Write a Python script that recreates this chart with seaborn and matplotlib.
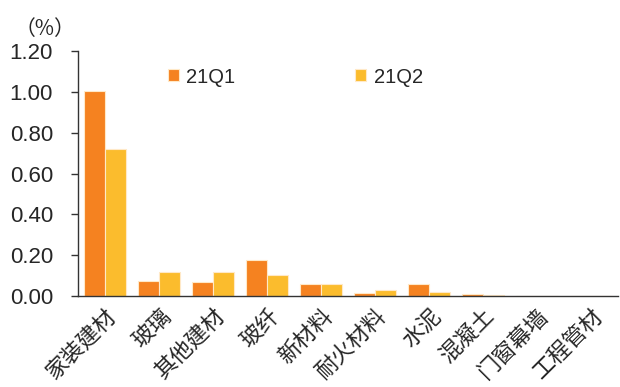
import matplotlib
matplotlib.use("Agg")
import matplotlib.pyplot as plt
import seaborn as sns
import pandas as pd
import numpy as np

categories = ["家装建材", "玻璃", "其他建材", "玻纤", "新材料", "耐火材料", "水泥", "混凝土", "门窗幕墙", "工程管材"]
q1 = [1.005, 0.073, 0.068, 0.175, 0.057, 0.015, 0.060, 0.012, 0.0, 0.0]
q2 = [0.720, 0.118, 0.116, 0.104, 0.057, 0.030, 0.020, 0.006, 0.0, 0.0]
series = ["21Q1", "21Q2"]
colors = ["#F58220", "#FBBC2D"]
yticks = [0.0, 0.2, 0.4, 0.6, 0.8, 1.0, 1.2]

sns.set_style("white")
plt.rcParams["font.family"] = ["Liberation Sans", "Noto Sans CJK SC", "DejaVu Sans"]

df = pd.DataFrame({
    "cat": categories * 2,
    "val": q1 + q2,
    "ser": [series[0]] * len(categories) + [series[1]] * len(categories),
})

fig = plt.figure(figsize=(6.2, 3.87), dpi=100)
ax = fig.add_axes([0.126, 0.235, 0.871, 0.633])
sns.barplot(data=df, x="cat", y="val", hue="ser", palette=colors, ax=ax,
            width=0.78, edgecolor="#FFE9C8", linewidth=0.8, saturation=1, errorbar=None)

ax.set_ylim(0, 1.2)
ax.set_xlim(-0.5, len(categories) - 0.5)
ax.set_yticks(yticks)
ax.set_yticklabels([f"{v:.2f}" for v in yticks], fontsize=16)
ax.set_xlabel("")
ax.set_ylabel("")
ax.set_xticks(range(len(categories)))
ax.set_xticklabels(categories, rotation=45, ha="right", rotation_mode="anchor",
                   fontsize=16, family=["Noto Sans CJK SC", "DejaVu Sans"])
ax.tick_params(axis="x", which="major", length=0, pad=6)
ax.set_xticks(np.arange(-0.5, len(categories)), minor=True)
ax.tick_params(axis="x", which="minor", length=5, width=1, color="#333333", direction="out")
ax.tick_params(axis="y", length=5, width=1, color="#333333", direction="out", left=True, pad=13)
for s in ["top", "right"]:
    ax.spines[s].set_visible(False)
for s in ["left", "bottom"]:
    ax.spines[s].set_color("#333333")
    ax.spines[s].set_linewidth(1)

ax.legend(loc="center left", bbox_to_anchor=(0.167, 0.894), ncol=2, frameon=False,
          fontsize=14.5, handlelength=0.55, handleheight=0.55, handletextpad=0.35,
          columnspacing=5.95, title=None, borderaxespad=0, borderpad=0)

fig.text(0.024, 0.924, "（%）", fontsize=15, family=["Noto Sans CJK SC", "DejaVu Sans"],
         va="center")

fig.savefig("out.png", dpi=100)
